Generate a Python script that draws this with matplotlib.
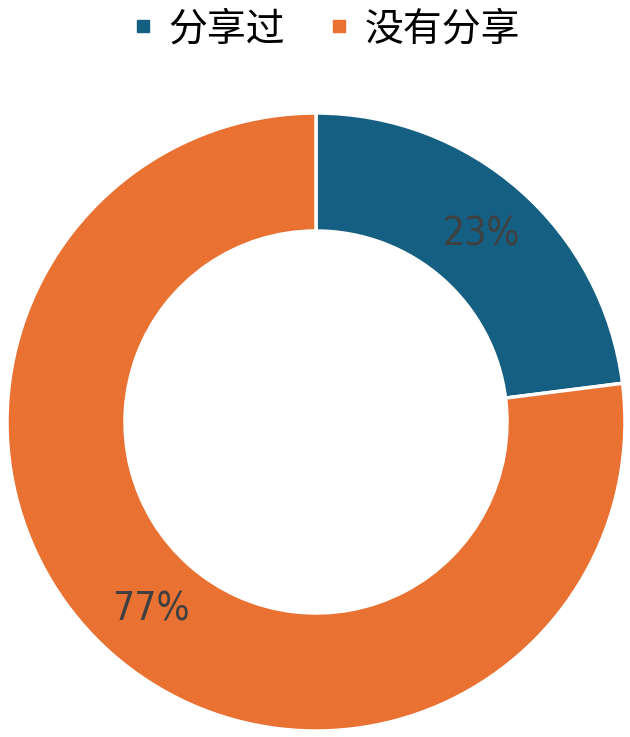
import matplotlib.pyplot as plt
from matplotlib.lines import Line2D

plt.rcParams['font.family'] = ['Noto Sans CJK SC', 'DejaVu Sans']

labels = ['分享过', '没有分享']
values = [23, 77]
colors = ['#156082', '#E97132']

W, H = 630, 737
fig = plt.figure(figsize=(W / 100, H / 100), dpi=100)
ax = fig.add_axes([0, 0, 1, 1])

wedges, texts, autotexts = ax.pie(
    values, colors=colors, startangle=90, counterclock=False,
    center=(316, H - 422), radius=309, frame=True,
    autopct='%d%%', pctdistance=0.81,
    wedgeprops=dict(width=118, edgecolor='white', linewidth=2.5),
    textprops=dict(fontsize=28, color='#404040', family='DejaVu Sans',
                   fontstretch='condensed', fontweight='light'))
ax.set_xlim(0, W)
ax.set_ylim(0, H)
ax.set_aspect('equal')
ax.axis('off')

# legend on top
handles = [Line2D([], [], marker='s', linestyle='none', markersize=9,
                  markerfacecolor=c, markeredgecolor=c) for c in colors]
fig.legend(handles, labels, loc='center', bbox_to_anchor=(0.517, 1 - 29 / H),
           ncol=2, frameon=False, fontsize=28, handletextpad=0.35,
           columnspacing=1.1, handlelength=0.6,
           prop=dict(family='Noto Sans CJK SC', weight='light', size=28))

fig.savefig('out.png', dpi=100)
